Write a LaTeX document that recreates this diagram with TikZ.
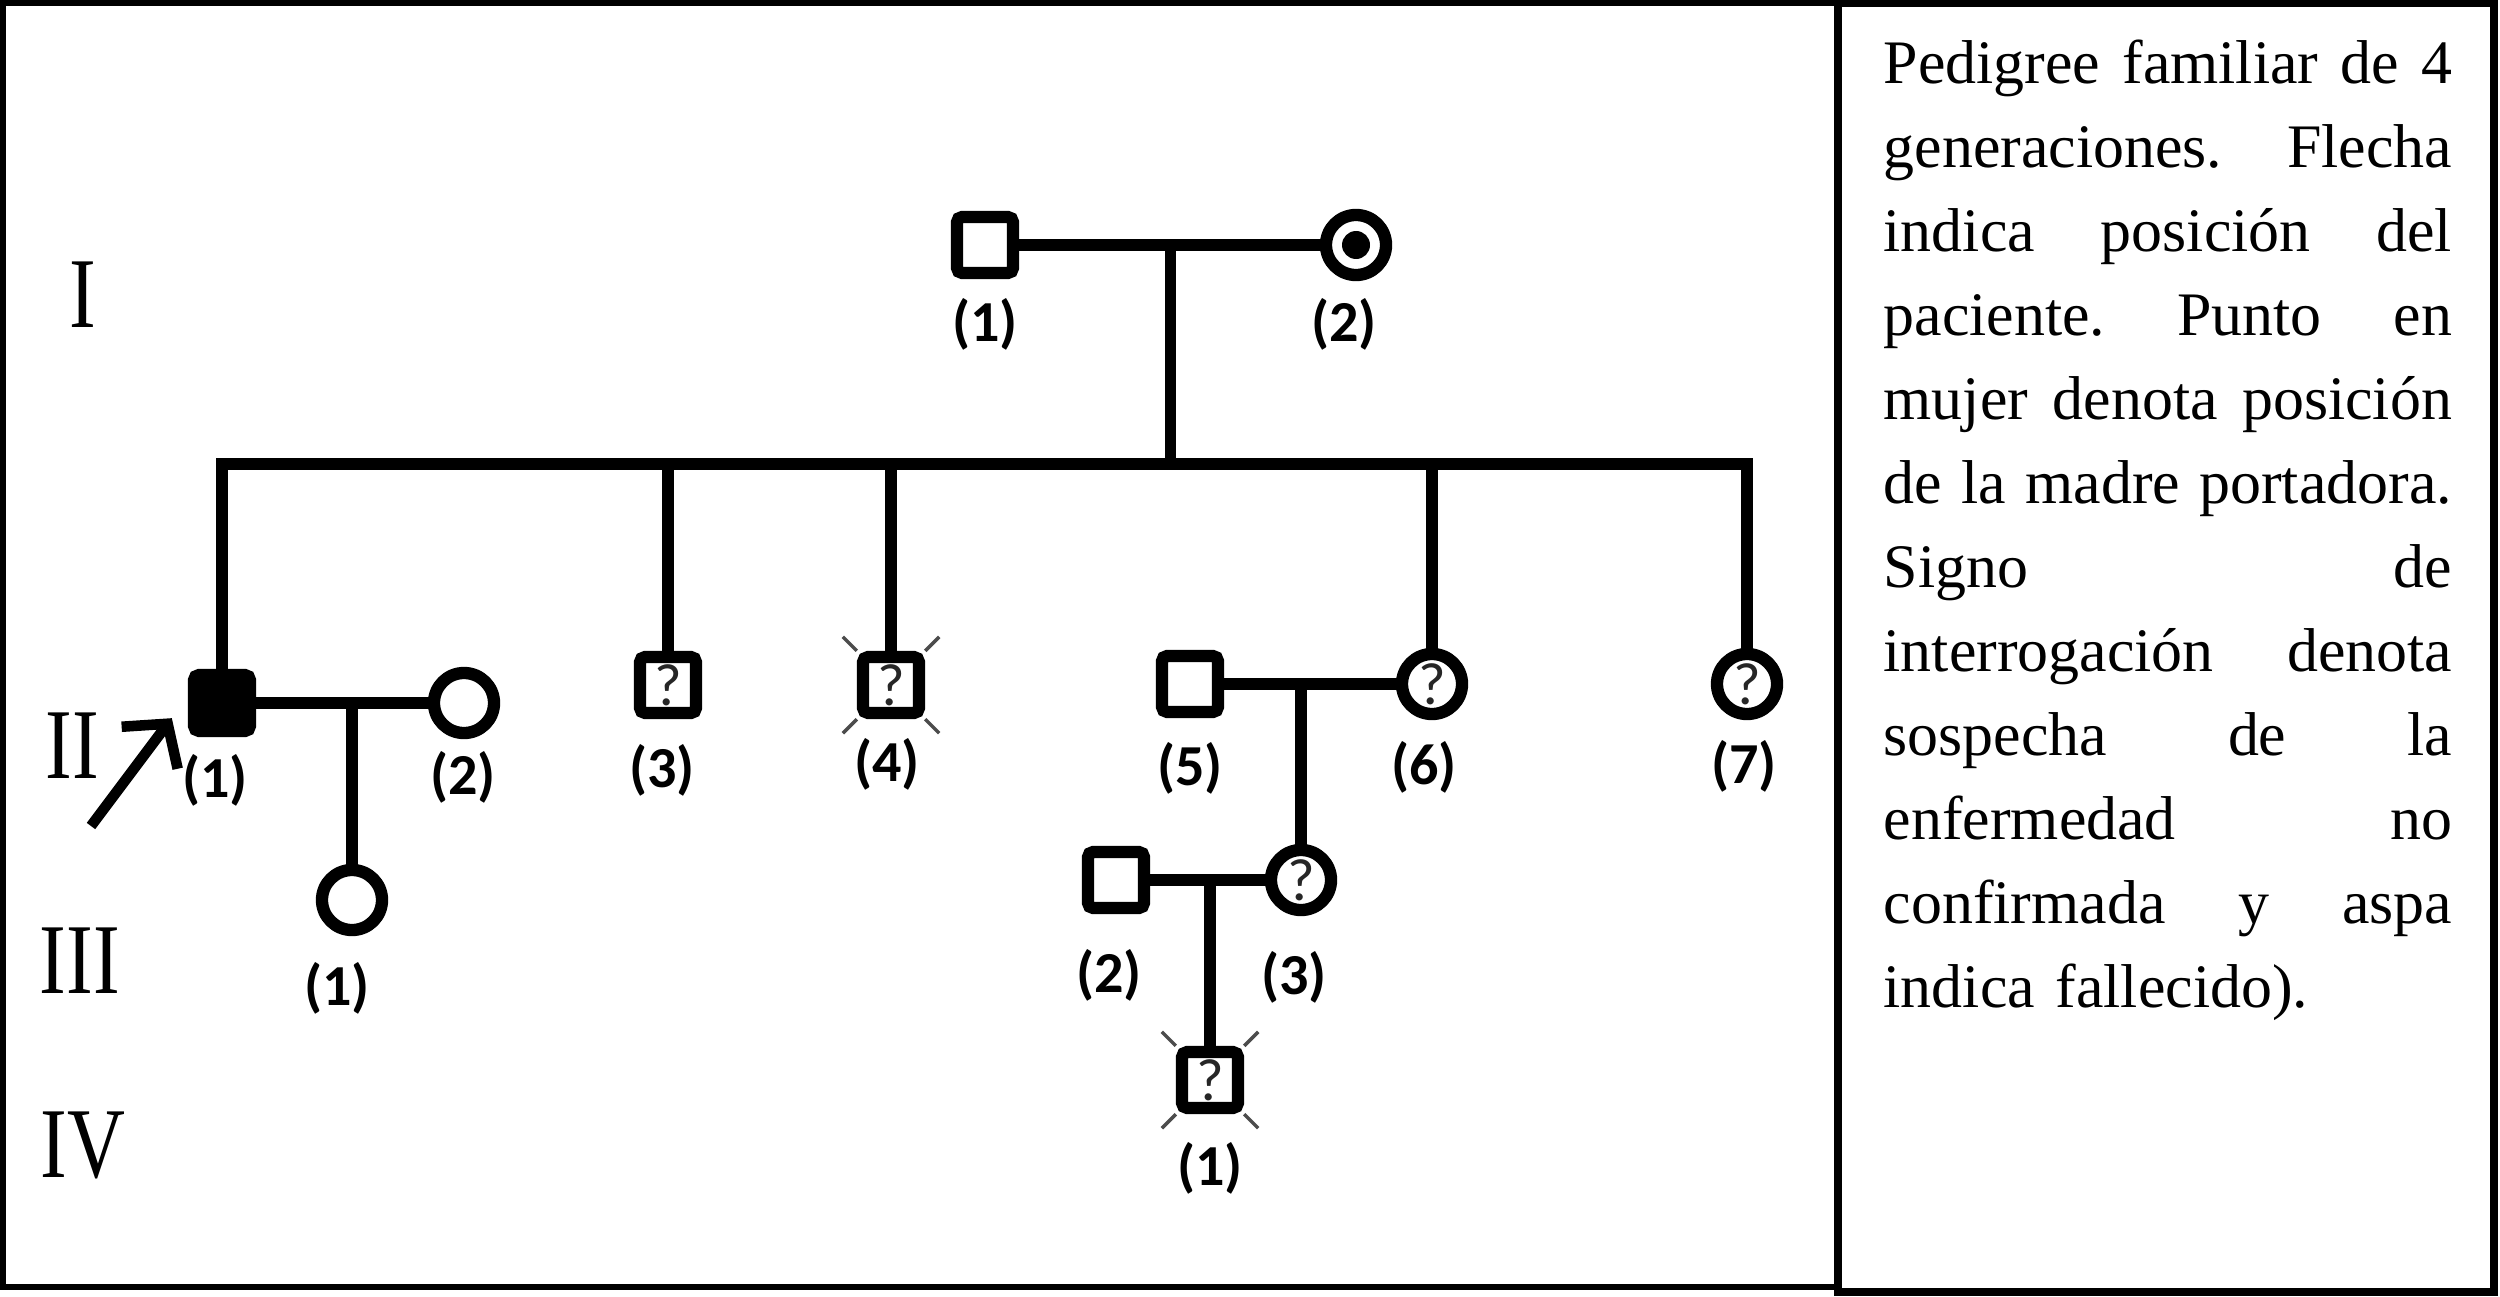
\documentclass[tikz,border=0pt]{standalone}
\usepackage{fontspec}
\setmainfont{Liberation Serif}
\newfontfamily\calibri{Carlito}
\usepackage{graphicx}
\usetikzlibrary{positioning}
\usetikzlibrary{calc}
\usetikzlibrary{arrows.meta}

\newlength{\notaancho}
\setlength{\notaancho}{5.68cm}
\newcommand{\linea}[1]{\hbox to \notaancho{\spaceskip=0.25em plus 1fil\relax
    \xspaceskip=\spaceskip #1}}

\begin{document}
\begin{tikzpicture}[
    x=0.01cm, y=-0.01cm,
    persona/.style={draw, line width=3.5pt, inner sep=0pt, fill=white, text=black!85,
        font=\calibri\fontsize{17}{17}\selectfont},
    male/.style={persona, minimum size=0.56cm, rounded corners=1.5pt},
    female/.style={persona, circle, minimum size=0.60cm},
    affected/.style={fill=black},
    link/.style={line width=3.2pt, line cap=rect},
    lbl/.style={font=\calibri\bfseries\fontsize{16.5}{18}\selectfont, inner sep=0pt},
    gen/.style={font=\fontsize{22.8}{23}\selectfont, inner sep=0pt},
    cruz/.style={line width=1pt, black!70},
    proband/.style={line width=3pt, -{Straight Barb[length=0.3cm, width=0.7cm]}},
    nota/.style={text width=5.68cm, inner sep=0pt, align=left, anchor=north west,
        font=\fontsize{17.6}{23.9}\selectfont}
]
    \useasboundingbox (0,0) rectangle (2500,1297);

    % Frames
    \draw[line width=1.6pt] (3,3) rectangle (1838,1287);
    \draw[line width=2.3pt] (1838,3) rectangle (2494,1292);

    % Generations
    \node[gen] (genI) at (83,295) {\scalebox{1}[1.25]{I}};
    \node[gen] (genII) at (72,746) {\scalebox{1}[1.25]{II}};
    \node[gen] (genIII) at (80,961) {\scalebox{1}[1.25]{III}};
    \node[gen] (genIV) at (83,1145) {\scalebox{1}[1.25]{IV}};

    % Generation I
    \node[male] (I1) at (985,245) {};
    \node[female] (I2) at (1356,245) {};
    \fill (I2) circle[radius=14];
    \coordinate (mI) at ($(I1)!0.5!(I2)$);
    \coordinate (sib) at (0,464);

    % Generation II
    \node[male, affected] (II1) at (222,703) {};
    \node[female] (II2) at (464,703) {};
    \node[male] (II3) at (668,685) {?};
    \node[male] (II4) at (891,685) {?};
    \node[male] (II5) at (1190,684) {};
    \node[female] (II6) at (1432,684) {?};
    \node[female] (II7) at (1747,684) {?};

    % Generation III
    \node[female] (III1) at (352,900) {};
    \node[male] (III2) at (1116,880) {};
    \node[female] (III3) at (1301,880) {?};

    % Generation IV
    \node[male] (IV1) at (1210,1080) {?};

    % Deceased
    \foreach \n in {II4, IV1} {
        \draw[cruz] (\n.north west) -- ++(-14,-14);
        \draw[cruz] (\n.north east) -- ++(14,-14);
        \draw[cruz] (\n.south west) -- ++(-14,14);
        \draw[cruz] (\n.south east) -- ++(14,14);
    }

    % Lines of descent
    \draw[link] (I1) -- (I2);
    \draw[link] (mI) -- (mI |- sib);
    \draw[link] (II1 |- sib) -- (II7 |- sib);
    \foreach \n in {II1, II3, II4, II6, II7}
        \draw[link] (\n) -- (\n |- sib);
    \draw[link] (II1) -- (II2);
    \draw[link] (III1) -- (III1 |- II1);
    \draw[link] (II5) -- (II6);
    \draw[link] (III3) -- (III3 |- II5);
    \draw[link] (III2) -- (III3);
    \draw[link] (IV1) -- (IV1 |- III2);

    % Proband
    \coordinate (ptail) at (91,826);
    \draw[proband] (ptail) -- ($(II1.south west)+(-16,-19)$);

    % Numbers
    \foreach \n/\x/\y/\t in {lI1/985/324/1, lI2/1344/324/2,
        lII1/215/780/1, lII2/463/777/2, lII3/662/770/3, lII4/887/764/4,
        lII5/1190/768/5, lII6/1424/767/6, lII7/1744/766/7,
        lIII1/337/988/1, lIII2/1109/975/2, lIII3/1294/977/3, lIV1/1210/1168/1} {
        \node[lbl] (\n) at (\x,\y) {(\t)};
    }

    % Caption
    \node[nota] (leyenda) at (1883,39) {%
        \linea{Pedigree familiar de 4}
        \linea{generaciones. Flecha}
        \linea{indica posición del}
        \linea{paciente. Punto en}
        \linea{mujer denota posición}
        \linea{de la madre portadora.}
        \linea{Signo de}
        \linea{interrogación denota}
        \linea{sospecha de la}
        \linea{enfermedad no}
        \linea{confirmada y aspa}
        \hbox{indica fallecido).}};
\end{tikzpicture}
\end{document}
